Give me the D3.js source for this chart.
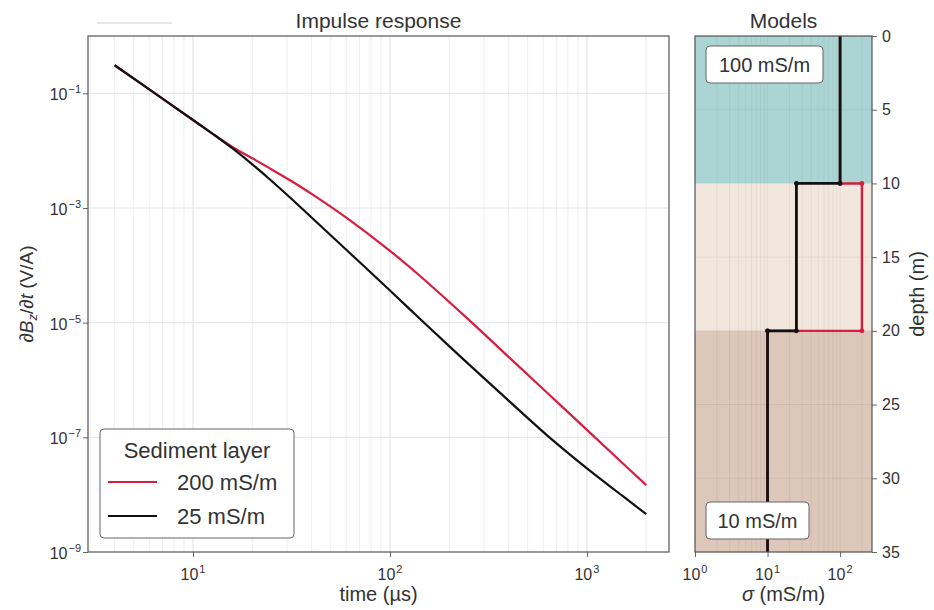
<!DOCTYPE html>
<html>
<head>
<meta charset="utf-8">
<script src="https://cdn.jsdelivr.net/npm/d3@7"></script>
<style>
body { margin: 0; background: #fff; }
text { font-family: "Liberation Sans", Arial, sans-serif; fill: #333; }
</style>
</head>
<body>
<script>
var width = 934,
    height = 610;

// impulse response
var times = [4, 6, 10, 13, 16, 20, 25, 32, 40, 60, 100, 150, 250, 400, 630, 1000, 1500, 2000];
var resp200 = [3.09e-1, 1.17e-1, 3.43e-2, 1.82e-2, 1.135e-2, 7.35e-3, 4.73e-3, 2.87e-3, 1.76e-3, 6.78e-4,
    1.79e-4, 5.55e-5, 1.14e-5, 2.53e-6, 5.92e-7, 1.35e-7, 3.68e-8, 1.47e-8];
var resp25 = [3.09e-1, 1.17e-1, 3.43e-2, 1.82e-2, 1.07e-2, 5.78e-3, 2.99e-3, 1.39e-3, 6.82e-4, 1.87e-4,
    3.64e-5, 9.77e-6, 1.91e-6, 4.37e-7, 1.07e-7, 2.88e-8, 9.77e-9, 4.57e-9];
var seriesNames = ['200 mS/m', '25 mS/m'];
var seriesColors = ['#d81e3e', '#111111'];
var xMajor = [10, 100, 1000];
var yMajor = [1e-1, 1e-3, 1e-5, 1e-7, 1e-9];

// layered models
var layerDepths = [0, 10, 20, 35];
var model200 = [100, 200, 10];
var model25 = [100, 25, 10];
var layerColors = ['#abd5d4', '#f1e7dc', '#ddc6ba'];
var depthTicks = [0, 5, 10, 15, 20, 25, 30, 35];
var sigmaMajor = [1, 10, 100];
var boxLabels = ['100 mS/m', '10 mS/m'];

var svg = d3.select('body').append('svg')
    .attr('width', width)
    .attr('height', height);

function minorTicks(scale) {
    var dom = scale.domain(), out = [];
    for (var e = Math.floor(Math.log10(dom[0])); e <= Math.ceil(Math.log10(dom[1])); e++) {
        for (var k = 1; k <= 9; k++) {
            var v = k * Math.pow(10, e);
            if (v >= dom[0] && v <= dom[1]) out.push(v);
        }
    }
    return out;
}

function powLabel(sel, v) {
    var e = Math.round(Math.log10(v));
    sel.text(null);
    sel.append('tspan').text('10');
    sel.append('tspan').attr('dx', 1).attr('dy', -7).style('font-size', '11px')
        .text(e < 0 ? '\u2212' + (-e) : e);
}

// ---------- left panel ----------
var L = { left: 88, right: 669, top: 36, bottom: 552 };
var x = d3.scaleLog().domain([2.93, 2610]).range([L.left, L.right]);
var y = d3.scaleLog().domain([1e-9, 1]).range([L.bottom, L.top]);

var left = svg.append('g');

left.selectAll('.vminor').data(minorTicks(x).filter(function (d) { return xMajor.indexOf(d) < 0; }))
    .enter().append('line')
    .attr('x1', d => x(d)).attr('x2', d => x(d))
    .attr('y1', L.top).attr('y2', L.bottom)
    .attr('stroke', '#eeeeee').attr('stroke-width', 1);
left.selectAll('.vmajor').data(xMajor)
    .enter().append('line')
    .attr('x1', d => x(d)).attr('x2', d => x(d))
    .attr('y1', L.top).attr('y2', L.bottom)
    .attr('stroke', '#e0e0e0').attr('stroke-width', 1);
left.selectAll('.hmajor').data(yMajor.slice(0, 4))
    .enter().append('line')
    .attr('x1', L.left).attr('x2', L.right)
    .attr('y1', d => y(d)).attr('y2', d => y(d))
    .attr('stroke', '#e4e4e4').attr('stroke-width', 1);

var line = d3.line()
    .x(function (d) { return x(d[0]); })
    .y(function (d) { return y(d[1]); })
    .curve(d3.curveNatural);

[resp200, resp25].forEach(function (vals, i) {
    left.append('path')
        .datum(times.map(function (t, j) { return [t, vals[j]]; }))
        .attr('d', line)
        .attr('fill', 'none')
        .attr('stroke', seriesColors[i])
        .attr('stroke-width', 2.2);
});

// x axis
var xAxis = left.append('g').attr('transform', 'translate(0,' + L.bottom + ')');
xAxis.call(d3.axisBottom(x).tickValues(minorTicks(x)).tickSize(3).tickFormat(''));
xAxis.call(d3.axisBottom(x).tickValues(xMajor).tickSize(5).tickFormat(''));
xAxis.selectAll('.domain').remove();
xAxis.selectAll('line').attr('stroke', '#666');
xAxis.selectAll('.lbl').data(xMajor).enter().append('text')
    .attr('x', d => x(d)).attr('y', 28)
    .attr('text-anchor', 'middle')
    .style('font-size', '16px').attr('fill', '#444')
    .each(function (d) { powLabel(d3.select(this), d); });

// y axis
var yAxis = left.append('g').attr('transform', 'translate(' + L.left + ',0)');
yAxis.call(d3.axisLeft(y).tickValues(yMajor).tickSize(5).tickFormat(''));
yAxis.selectAll('.domain').remove();
yAxis.selectAll('line').attr('stroke', '#666');
yAxis.selectAll('.lbl').data(yMajor).enter().append('text')
    .attr('x', -7).attr('y', d => y(d) + 7)
    .attr('text-anchor', 'end')
    .style('font-size', '16px').attr('fill', '#444')
    .each(function (d) { powLabel(d3.select(this), d); });

left.append('rect')
    .attr('x', L.left).attr('y', L.top)
    .attr('width', L.right - L.left).attr('height', L.bottom - L.top)
    .attr('fill', 'none').attr('stroke', '#555').attr('stroke-width', 1.2);

left.append('text')
    .attr('x', (L.left + L.right) / 2).attr('y', 28)
    .attr('text-anchor', 'middle').style('font-size', '21px')
    .text('Impulse response');

left.append('text')
    .attr('x', (L.left + L.right) / 2).attr('y', 601)
    .attr('text-anchor', 'middle').style('font-size', '20px')
    .text('time (\u00b5s)');

var ylab = left.append('text')
    .attr('transform', 'translate(33,' + (L.top + L.bottom) / 2 + ') rotate(-90)')
    .attr('text-anchor', 'middle').style('font-size', '19px');
ylab.append('tspan').text('\u2202');
ylab.append('tspan').style('font-style', 'italic').text('B');
ylab.append('tspan').attr('dy', 4).style('font-size', '13px').style('font-style', 'italic').text('z');
ylab.append('tspan').attr('dy', -4).text('/\u2202');
ylab.append('tspan').style('font-style', 'italic').text('t');
ylab.append('tspan').text(' (V/A)');

// leftover stroke above the panel
left.append('line')
    .attr('x1', 97).attr('x2', 172).attr('y1', 23).attr('y2', 23)
    .attr('stroke', '#d0d0d0').attr('stroke-width', 1.2);

// legend
var leg = left.append('g').attr('transform', 'translate(100,429)');
leg.append('rect')
    .attr('width', 194).attr('height', 109).attr('rx', 4)
    .attr('fill', '#fff').attr('stroke', '#666').attr('stroke-width', 1);
leg.append('text')
    .attr('x', 97).attr('y', 29).attr('text-anchor', 'middle')
    .style('font-size', '22px').text('Sediment layer');
seriesNames.forEach(function (name, i) {
    var yy = 53 + i * 34;
    leg.append('line')
        .attr('x1', 8).attr('x2', 57).attr('y1', yy).attr('y2', yy)
        .attr('stroke', seriesColors[i]).attr('stroke-width', 2.2);
    leg.append('text')
        .attr('x', 77).attr('y', yy + 8)
        .style('font-size', '22px').text(name);
});

// ---------- right panel ----------
var R = { left: 695, right: 872, top: 36, bottom: 552 };
var xs = d3.scaleLog().domain([1, Math.pow(10, 2.44)]).range([R.left, R.right]);
var ys = d3.scaleLinear().domain([0, 35]).range([R.top, R.bottom]);

var right = svg.append('g');

right.selectAll('.layer').data(layerColors)
    .enter().append('rect')
    .attr('x', R.left).attr('width', R.right - R.left)
    .attr('y', (d, i) => ys(layerDepths[i]))
    .attr('height', (d, i) => ys(layerDepths[i + 1]) - ys(layerDepths[i]))
    .attr('fill', d => d);

right.selectAll('.vgrid').data(minorTicks(xs))
    .enter().append('line')
    .attr('x1', d => xs(d)).attr('x2', d => xs(d))
    .attr('y1', R.top).attr('y2', R.bottom)
    .attr('stroke', 'rgba(0,0,0,0.05)').attr('stroke-width', 1);
right.selectAll('.hgrid').data(depthTicks)
    .enter().append('line')
    .attr('x1', R.left).attr('x2', R.right)
    .attr('y1', d => ys(d)).attr('y2', d => ys(d))
    .attr('stroke', 'rgba(0,0,0,0.06)').attr('stroke-width', 1);

function stepPoints(model) {
    var pts = [];
    model.forEach(function (s, i) {
        pts.push([s, layerDepths[i]]);
        pts.push([s, layerDepths[i + 1]]);
    });
    return pts;
}
var stepLine = d3.line()
    .x(function (d) { return xs(d[0]); })
    .y(function (d) { return ys(d[1]); });

[model200, model25].forEach(function (model, i) {
    var pts = stepPoints(model);
    right.append('path')
        .datum(pts)
        .attr('d', stepLine)
        .attr('fill', 'none')
        .attr('stroke', seriesColors[i])
        .attr('stroke-width', i ? 2.8 : 2.4);
    right.selectAll('.dot' + i).data(pts.slice(1, -1))
        .enter().append('circle')
        .attr('cx', d => xs(d[0])).attr('cy', d => ys(d[1]))
        .attr('r', 2.4)
        .attr('fill', seriesColors[i]);
});

// text boxes
var boxes = [{ x: 706, y: 46, w: 117, h: 37 }, { x: 706, y: 502, w: 103, h: 37 }];
boxes.forEach(function (b, i) {
    right.append('rect')
        .attr('x', b.x).attr('y', b.y).attr('width', b.w).attr('height', b.h).attr('rx', 4)
        .attr('fill', '#fff').attr('stroke', '#666').attr('stroke-width', 1);
    right.append('text')
        .attr('x', b.x + b.w / 2).attr('y', b.y + b.h / 2 + 7)
        .attr('text-anchor', 'middle').style('font-size', '20px')
        .text(boxLabels[i]);
});

var sxAxis = right.append('g').attr('transform', 'translate(0,' + R.bottom + ')');
sxAxis.call(d3.axisBottom(xs).tickValues(minorTicks(xs)).tickSize(3).tickFormat(''));
sxAxis.call(d3.axisBottom(xs).tickValues(sigmaMajor).tickSize(5).tickFormat(''));
sxAxis.selectAll('.domain').remove();
sxAxis.selectAll('line').attr('stroke', '#666');
sxAxis.selectAll('.lbl').data(sigmaMajor).enter().append('text')
    .attr('x', d => xs(d)).attr('y', 28)
    .attr('text-anchor', 'middle')
    .style('font-size', '16px').attr('fill', '#444')
    .each(function (d) { powLabel(d3.select(this), d); });

var syAxis = right.append('g').attr('transform', 'translate(' + R.right + ',0)');
syAxis.call(d3.axisRight(ys).tickValues(depthTicks).tickSize(5).tickPadding(5));
syAxis.selectAll('.domain').remove();
syAxis.selectAll('line').attr('stroke', '#666');
syAxis.selectAll('text')
    .style('font-size', '16px')
    .style('font-family', '"Liberation Sans", Arial, sans-serif')
    .attr('fill', '#444');

right.append('rect')
    .attr('x', R.left).attr('y', R.top)
    .attr('width', R.right - R.left).attr('height', R.bottom - R.top)
    .attr('fill', 'none').attr('stroke', '#555').attr('stroke-width', 1.2);

right.append('text')
    .attr('x', (R.left + R.right) / 2).attr('y', 28)
    .attr('text-anchor', 'middle').style('font-size', '21px')
    .text('Models');

var slab = right.append('text')
    .attr('x', (R.left + R.right) / 2).attr('y', 601)
    .attr('text-anchor', 'middle').style('font-size', '20px');
slab.append('tspan').style('font-style', 'italic').text('\u03c3');
slab.append('tspan').text(' (mS/m)');

right.append('text')
    .attr('transform', 'translate(924,' + (R.top + R.bottom) / 2 + ') rotate(-90)')
    .attr('text-anchor', 'middle').style('font-size', '20px')
    .text('depth (m)');
</script>
</body>
</html>
